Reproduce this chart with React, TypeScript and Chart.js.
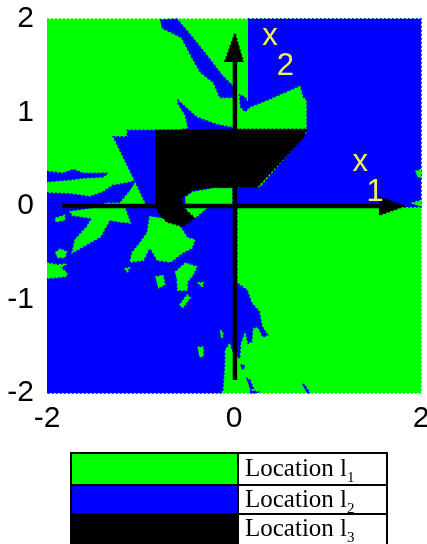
import React, { useEffect, useRef } from "react";
import { Chart, registerables } from "chart.js";

Chart.register(...registerables);

type P = [number, number];

const GREEN = "#00ff00";
const BLUE = "#0000ff";
const BLACK = "#000000";

const xTicks = [-2, 0, 2];
const yTicks = [-2, -1, 0, 1, 2];
const legendColors = [GREEN, BLUE, BLACK];
const legendSubs = ["1", "2", "3"];

const square: P[] = [[-2, 2], [2, 2], [2, -2], [-2, -2]];

const blueUpperRight: P[] = [[0.15, 2], [2, 2], [2, -0.01], [0.03, -0.01], [0.03, 0.2], [0.28, 0.2], [0.78, 0.79], [0.78, 1.13], [0.74, 1.17], [0.71, 1.29], [0.35, 1.13], [0.17, 1.06], [0.12, 1.01], [0.07, 1.06], [0.06, 1.19], [0.12, 1.16], [0.15, 1.11]];
const blueBand: P[] = [[-2, 0.37], [-1.83, 0.35], [-1.72, 0.39], [-1.61, 0.35], [-1.35, 0.35], [-1.4, 0.31], [-1.61, 0.3], [-1.75, 0.28], [-2, 0.26]];
const blueLowerLeft: P[] = [[-2, 0.14], [-1.75, 0.13], [-1.54, 0.1], [-1.4, 0.15], [-1.3, 0.22], [-1.13, 0.25], [-1.06, 0.27], [-1.29, 0.74], [-1.14, 0.74], [-1.14, 0.81], [-0.6, 0.81], [-0.49, 0.83], [-0.52, 0.97], [-0.6, 1.1], [-0.6, 1.13], [-0.4, 0.95], [-0.18, 0.87], [-0.02, 0.84], [0.03, 0.84], [0.03, -0.82], [0.14, -0.9], [0.19, -1.04], [0.27, -1.13], [0.3, -1.29], [0.36, -1.38], [0.31, -1.4], [0.26, -1.3], [0.2, -1.3], [0.19, -1.45], [0.15, -1.47], [0.12, -1.33], [0.07, -1.47], [0.06, -1.63], [-0.02, -1.54], [-0.04, -1.45], [-0.1, -1.54], [-0.1, -1.68], [-0.12, -1.97], [-0.14, -2], [-2, -2]];
const blueStreak: P[] = [[-0.79, 1.99], [-0.61, 2], [-0.56, 1.94], [-0.45, 1.81], [-0.29, 1.61], [-0.13, 1.4], [0, 1.27], [0, 1.16], [-0.15, 1.16], [-0.22, 1.32], [-0.36, 1.43], [-0.45, 1.59], [-0.56, 1.8], [-0.68, 1.86], [-0.77, 1.9]];
const blueSpeckA: P[] = [[0.07, -1.7], [0.11, -1.7], [0.11, -1.74], [0.08, -1.74]];
const blueSpeckB: P[] = [[0.13, -1.84], [0.17, -1.86], [0.21, -1.96], [0.17, -1.95]];
const blueSpeckC: P[] = [[0.17, -1.97], [0.26, -1.99], [0.24, -2], [0.17, -2]];
const blueSpeckD: P[] = [[0.73, -1.91], [0.75, -1.91], [0.81, -2], [0.78, -2]];

const greenStreakLeft: P[] = [[-1.06, 0.25], [-0.97, 0.06], [-0.94, 0], [-1.17, -0.01], [-1.11, -0.18], [-1.22, -0.17], [-1.33, -0.15], [-1.43, -0.33], [-1.59, -0.42], [-1.73, -0.5], [-1.7, -0.36], [-1.57, -0.22], [-1.52, -0.13], [-1.73, -0.1], [-1.75, -0.06], [-1.54, -0.03], [-1.36, 0.03], [-1.22, 0.03], [-1.13, 0.14]];
const greenDotA: P[] = [[-1.91, -0.13], [-1.81, -0.1], [-1.81, -0.15], [-1.91, -0.17]];
const greenDotB: P[] = [[-1.91, -0.5], [-1.86, -0.46], [-1.79, -0.49], [-1.81, -0.55], [-1.89, -0.55]];
const greenChevrons: P[] = [[-2, -0.61], [-1.89, -0.63], [-1.79, -0.62], [-1.86, -0.66], [-1.79, -0.71], [-1.79, -0.75], [-1.95, -0.77], [-2, -0.77]];
const greenBlob: P[] = [[-0.9, -0.11], [-0.92, -0.24], [-0.93, -0.29], [-1.01, -0.4], [-1.09, -0.5], [-1.11, -0.6], [-0.97, -0.58], [-0.9, -0.44], [-0.82, -0.58], [-0.68, -0.6], [-0.55, -0.5], [-0.45, -0.45], [-0.42, -0.36], [-0.5, -0.34], [-0.55, -0.26], [-0.63, -0.15]];
const greenTail: P[] = [[-1.17, -0.67], [-1.12, -0.66], [-1.14, -0.71]];
const greenPatchA: P[] = [[-0.63, -0.71], [-0.52, -0.61], [-0.4, -0.65], [-0.44, -0.74], [-0.5, -0.81], [-0.5, -0.9], [-0.6, -0.9], [-0.61, -0.79]];
const greenPatchB: P[] = [[-0.84, -0.76], [-0.76, -0.74], [-0.74, -0.84], [-0.81, -0.88]];
const greenPatchC: P[] = [[-0.39, -0.82], [-0.33, -0.82], [-0.34, -0.87]];
const greenPatchD: P[] = [[-0.58, -1.06], [-0.5, -0.95], [-0.47, -0.98], [-0.55, -1.09]];
const greenPatchE: P[] = [[-0.39, -1.51], [-0.33, -1.51], [-0.33, -1.61], [-0.37, -1.61]];
const greenPatchF: P[] = [[-0.15, -1.33], [-0.12, -1.35], [-0.12, -1.4], [-0.14, -1.4]];
const greenAboveAxis: P[] = [[-0.52, 0.09], [-0.44, 0.15], [-0.22, 0.19], [-0.02, 0.19], [-0.02, 0.02], [-0.52, 0.02]];
const greenBelowAxis: P[] = [[-0.52, -0.02], [-0.29, -0.02], [-0.42, -0.13], [-0.5, -0.09]];
const greenEdgeA: P[] = [[1.94, 0.37], [2, 0.39], [2, 0.3], [1.96, 0.32]];
const greenEdgeB: P[] = [[1.9, 0.03], [2, 0.06], [2, 0], [1.95, 0.01]];

const blackRegion: P[] = [[-0.84, 0.81], [0, 0.82], [0.78, 0.82], [0.74, 0.73], [0.25, 0.2], [-0.22, 0.2], [-0.44, 0.17], [-0.56, 0.09], [-0.55, -0.01], [-0.42, -0.13], [-0.55, -0.22], [-0.72, -0.17], [-0.81, -0.07], [-0.84, -0.01]];

const axisX1: P[] = [[-1.84, 0], [1.55, 0]];
const headX1: P[] = [[1.55, 0.1], [1.83, 0], [1.55, -0.1]];
const axisX2: P[] = [[0.01, -1.86], [0.01, 1.54]];
const headX2: P[] = [[-0.1, 1.54], [0.01, 1.85], [0.1, 1.54]];

const axisLabels: { x: number; y: number; text: string }[] = [
  { x: 0.385, y: 1.81, text: "x" },
  { x: 0.55, y: 1.49, text: "2" },
  { x: 1.35, y: 0.47, text: "x" },
  { x: 1.51, y: 0.15, text: "1" },
];

const layers: { pts: P[]; color: string }[] = [
  { pts: square, color: GREEN },
  ...[blueUpperRight, blueBand, blueLowerLeft, blueStreak, blueSpeckA, blueSpeckB, blueSpeckC, blueSpeckD].map((pts) => ({ pts, color: BLUE })),
  ...[greenStreakLeft, greenDotA, greenDotB, greenChevrons, greenBlob, greenTail, greenPatchA, greenPatchB, greenPatchC, greenPatchD, greenPatchE, greenPatchF, greenAboveAxis, greenBelowAxis, greenEdgeA, greenEdgeB].map((pts) => ({ pts, color: GREEN })),
  { pts: blackRegion, color: BLACK },
  { pts: headX1, color: BLACK },
  { pts: headX2, color: BLACK },
];

const FONT = '"Liberation Sans", Arial, sans-serif';

const labelPlugin = {
  id: "axisLabels",
  afterDatasetsDraw(chart: any) {
    const { ctx, scales } = chart;
    ctx.save();
    ctx.fillStyle = "#f7ec5c";
    ctx.font = `31px ${FONT}`;
    ctx.textAlign = "center";
    ctx.textBaseline = "middle";
    axisLabels.forEach((l) => ctx.fillText(l.text, scales.x.getPixelForValue(l.x), scales.y.getPixelForValue(l.y)));
    ctx.restore();
  },
};

const noMargins = (s: any) => {
  s.paddingLeft = s.paddingRight = s.paddingTop = s.paddingBottom = 0;
  s._margins = { left: 0, right: 0, top: 0, bottom: 0 };
};

export default function App() {
  const ref = useRef<HTMLCanvasElement>(null);
  useEffect(() => {
    const toData = (pts: P[]) => pts.map(([x, y]) => ({ x, y }));
    const polys = layers.map((l) => ({
      data: toData(l.pts),
      showLine: true,
      fill: "shape" as const,
      backgroundColor: l.color,
      borderColor: l.color,
      borderWidth: 1.5,
      borderDash: [2, 2],
      pointRadius: 0,
      tension: 0,
      clip: false as const,
    }));
    const lines = [axisX1, axisX2].map((pts) => ({
      data: toData(pts),
      showLine: true,
      fill: false,
      borderColor: BLACK,
      borderWidth: 4.5,
      pointRadius: 0,
      borderCapStyle: "butt" as const,
    }));
    const datasets: any[] = [...polys, ...lines].map((d, i, all) => ({ ...d, order: all.length - i }));
    const chart = new Chart(ref.current!, {
      type: "scatter",
      data: { datasets },
      plugins: [labelPlugin],
      options: {
        animation: false,
        responsive: false,
        layout: { autoPadding: false, padding: { top: 19, right: 6, left: 0, bottom: 0 } },
        plugins: { legend: { display: false }, tooltip: { enabled: false } },
        scales: {
          x: {
            type: "linear",
            min: -2,
            max: 2,
            grid: { display: false },
            border: { display: false },
            afterBuildTicks: (s: any) => { s.ticks = xTicks.map((value) => ({ value })); },
            afterFit: (s: any) => { s.height = 151; noMargins(s); },
            ticks: { color: "#000", font: { family: FONT, size: 30 }, padding: 0, maxRotation: 0, autoSkip: false },
          },
          y: {
            type: "linear",
            min: -2,
            max: 2,
            grid: { display: false },
            border: { display: false },
            afterBuildTicks: (s: any) => { s.ticks = yTicks.map((value) => ({ value })); },
            afterFit: (s: any) => { s.width = 47; noMargins(s); },
            ticks: { color: "#000", font: { family: FONT, size: 30 }, padding: 5, autoSkip: false },
          },
        },
      },
    });
    return () => chart.destroy();
  }, []);

  const serif = '"Liberation Serif", "Times New Roman", serif';
  return (
    <div style={{ position: "absolute", left: 0, top: 0, width: 427, height: 544, overflow: "hidden", background: "#fff" }}>
      <canvas ref={ref} width={427} height={544} style={{ display: "block" }} />
      <div style={{ position: "absolute", left: 70, top: 452, width: 318, height: 92, boxSizing: "border-box", border: "2px solid #000", borderBottom: "none" }}>
        {legendColors.map((c, i) => (
          <div key={i} style={{ display: "flex", height: i === 1 ? 29 : i === 2 ? 31 : 30, borderTop: i ? "2px solid #000" : "none", boxSizing: "border-box" }}>
            <div style={{ width: 165, background: c, borderRight: "2px solid #000" }} />
            <div style={{ flex: 1, paddingLeft: 6, fontFamily: serif, fontSize: 25, lineHeight: i ? "26px" : "28px", color: "#000", whiteSpace: "nowrap" }}>
              Location l<sub style={{ fontSize: 15, lineHeight: 0 }}>{legendSubs[i]}</sub>
            </div>
          </div>
        ))}
      </div>
    </div>
  );
}
